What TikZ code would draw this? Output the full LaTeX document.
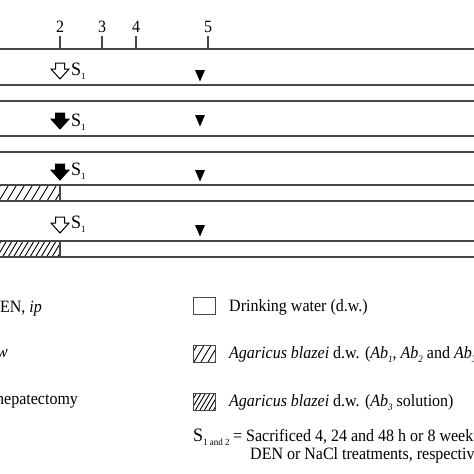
\documentclass[tikz,border=0pt]{standalone}
\usepackage{fontspec}
\setmainfont{Liberation Serif}
\newcommand\hatchrect[5]{%
  \begin{scope}
    \clip (#1,#2) rectangle (#3,#4);
    \foreach \k in {0,...,40}
      \draw[hatch] ({#1-20+\k*#5},#4) -- ++({0.6*(#4-#2)},{-(#4-#2)});
  \end{scope}}
\newcommand\subsm[1]{\raisebox{-4pt}{\fontsize{9}{9}\selectfont #1}}
\begin{document}
\begin{tikzpicture}[x=1pt,y=-1pt,
  rule/.style={draw=black!72, line width=1.1pt},
  hatch/.style={draw=black, line width=0.9pt},
  lbl/.style={font=\fontsize{16}{17}\selectfont, inner sep=0pt, transform shape, yscale=1.08},
  slbl/.style={font=\fontsize{18}{19}\selectfont, inner sep=0pt, transform shape, yscale=1.05},
  pics/sarrow/.style={code={\draw[line width=1pt,#1] (-4.5,0) -- (4.5,0) -- (4.5,6) -- (9,6) -- (0,16) -- (-9,6) -- (-4.5,6) -- cycle;}},
  pics/tri/.style={code={\fill[black] (-5,0) -- (5,0) -- (0,11.5) -- cycle;}}]
\useasboundingbox (0,0) rectangle (474,474);
\fill[white] (0,0) rectangle (474,474);
\clip (0,0) rectangle (474,474);

% time axis
\draw[rule] (-5,49) -- (480,49);
\foreach \x/\t in {60/2,102/3,136/4,208/5}{
  \draw[rule] (\x,36) -- (\x,49);
  \node[lbl, anchor=base] (t\t) at (\x,32) {\t};
}

% bars
\draw[rule] (-5,85) rectangle (480,101);
\draw[rule] (-5,136) rectangle (480,152);
\hatchrect{-5}{185}{60}{201}{8}
\draw[rule] (-5,185) rectangle (480,201);
\draw[rule] (60,185) -- (60,201);
\hatchrect{-5}{241}{60}{257}{5.5}
\draw[rule] (-5,241) rectangle (480,257);
\draw[rule] (60,241) -- (60,257);

% arrows, S1 labels, triangles
\pic at (60,63) {sarrow={fill=white}};
\pic at (60,113) {sarrow={fill=black}};
\pic at (60,164) {sarrow={fill=black}};
\pic at (60,217) {sarrow={fill=white}};
\foreach \y/\n in {75/a,126/b,175/c,228/d}
  \node[slbl, anchor=base west] (s\n) at (71,\y) {S\subsm{1}};
\foreach \y in {70,115,170,225}
  \pic at (200,\y) {tri};

% legend, left column (cut off at the left edge)
\node[lbl, anchor=base west] (l1) at (-11.6,312) {DEN, \textit{ip}};
\node[lbl, anchor=base east] (l2) at (8,357) {\textit{w}};
\node[lbl, anchor=base west] (l3) at (-4,404) {hepatectomy};

% legend, right column
\draw[rule, line width=1pt] (193,297) rectangle (215,314);
\node[lbl, anchor=base west] (r1) at (229,311) {Drinking water (d.w.)};
\hatchrect{193}{345}{215}{362}{7}
\draw[rule, line width=1pt] (193,345) rectangle (215,362);
\node[lbl, anchor=base west] (r2) at (229,358) {\textit{Agaricus blazei} d.w. (\textit{Ab}\subsm{\textit{1}}, \textit{Ab}\subsm{\textit{2}} and \textit{Ab}\subsm{\textit{3}} solution)};
\hatchrect{193}{393}{215}{410}{4.5}
\draw[rule, line width=1pt] (193,393) rectangle (215,410);
\node[lbl, anchor=base west] (r3) at (229,406) {\textit{Agaricus blazei} d.w. (\textit{Ab}\subsm{\textit{3}} solution)};
\node[slbl, anchor=base west] (r4) at (193,441) {S\subsm{1 and 2}};
\node[lbl, anchor=base west] (r5) at (233,441) {= Sacrificed 4, 24 and 48 h or 8 weeks after};
\node[lbl, anchor=base west] (r6) at (250,459) {DEN or NaCl treatments, respectively};
\end{tikzpicture}
\end{document}
